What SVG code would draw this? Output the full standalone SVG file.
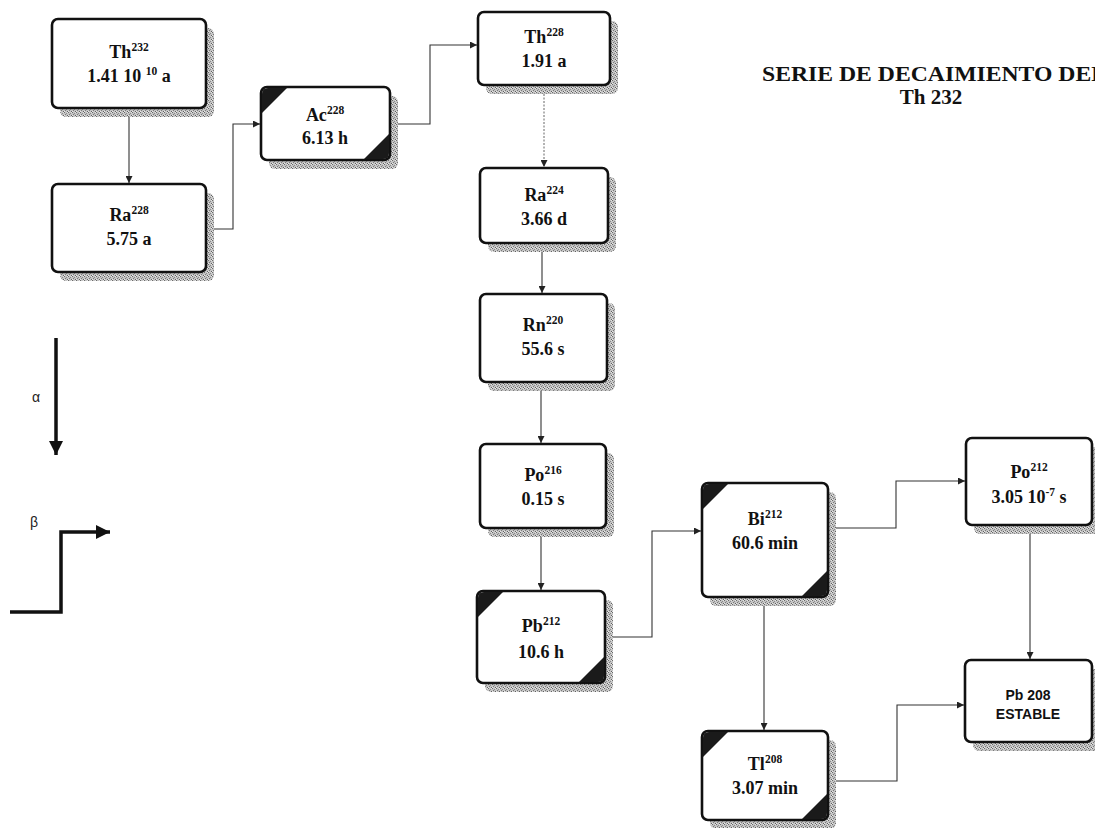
<svg xmlns="http://www.w3.org/2000/svg" width="1095" height="828" viewBox="0 0 1095 828">
<style>
.box{fill:#fff;stroke:#111;stroke-width:2.6}
.sh{fill:url(#dots)}
.corner{fill:#1a1a1a}
.t{font-family:"Liberation Serif","Times New Roman",serif;font-weight:bold;font-size:18px;fill:#111;text-anchor:middle}
.sup{font-size:11.5px}
.s{font-family:"Liberation Sans",Arial,sans-serif;font-weight:bold;font-size:14px;fill:#111;text-anchor:middle}
.c{fill:none;stroke:#333;stroke-width:1.1}
.cd{fill:none;stroke:#666;stroke-width:1;stroke-dasharray:2 1.5}
.leg{fill:none;stroke:#111;stroke-width:3.5}
.title{font-family:"Liberation Serif","Times New Roman",serif;font-weight:bold;font-size:21px;fill:#111}
.greek{font-family:"Liberation Sans",Arial,sans-serif;font-size:14px;fill:#222}
</style>
<defs>
<pattern id="dots" width="4" height="4" patternUnits="userSpaceOnUse">
<rect width="4" height="4" fill="#c4c4c4"/>
<rect x="0" y="0" width="1" height="1" fill="#6a6a6a"/>
<rect x="2" y="1" width="1" height="1" fill="#8a8a8a"/>
<rect x="1" y="2" width="1" height="1" fill="#7a7a7a"/>
<rect x="3" y="3" width="1" height="1" fill="#606060"/>
<rect x="3" y="0" width="1" height="1" fill="#e4e4e4"/>
<rect x="0" y="3" width="1" height="1" fill="#e8e8e8"/>
</pattern>
<marker id="ah" viewBox="0 0 8 8" refX="8" refY="4" markerWidth="7" markerHeight="7" markerUnits="userSpaceOnUse" orient="auto">
<path d="M0,0 L8,4 L0,8 Z" fill="#222"/>
</marker>
<marker id="big" viewBox="0 0 10 10" refX="10" refY="5" markerWidth="14" markerHeight="14" markerUnits="userSpaceOnUse" orient="auto">
<path d="M0,0 L10,5 L0,10 Z" fill="#111"/>
</marker>
</defs>

<g id="title">
<text class="title" x="762" y="81" textLength="345" lengthAdjust="spacingAndGlyphs">SERIE DE DECAIMIENTO DEL</text>
<text class="title" x="931" y="104" text-anchor="middle">Th 232</text>
</g>

<g id="connectors">
<path class="c" d="M129,117 V183" marker-end="url(#ah)"/>
<path class="c" d="M214,229 H233 V124 H260" marker-end="url(#ah)"/>
<path class="c" d="M398,124 H430 V45 H477" marker-end="url(#ah)"/>
<path class="cd" d="M544,94 V167" marker-end="url(#ah)"/>
<path class="c" d="M542,251 V293" marker-end="url(#ah)"/>
<path class="c" d="M541,390 V443" marker-end="url(#ah)"/>
<path class="c" d="M541,536 V590" marker-end="url(#ah)"/>
<path class="c" d="M613,637 H652 V531 H701" marker-end="url(#ah)"/>
<path class="c" d="M836,528 H896 V481 H965" marker-end="url(#ah)"/>
<path class="c" d="M764,605 V730" marker-end="url(#ah)"/>
<path class="c" d="M1030,533 V659" marker-end="url(#ah)"/>
<path class="c" d="M836,781 H897 V705 H964" marker-end="url(#ah)"/>
</g>

<g id="legend">
<text class="greek" x="32" y="402">α</text>
<path class="leg" d="M56,338 V455" marker-end="url(#big)"/>
<text class="greek" x="30" y="527">β</text>
<path class="leg" d="M10,612 H61 V532 H110" marker-end="url(#big)"/>
</g>

<g id="Th232">
<rect class="sh" x="60" y="28" width="154" height="89" rx="6"/>
<rect class="box" x="52" y="19" width="154" height="89" rx="6"/>
<text class="t" x="129" y="58">Th<tspan class="sup" dy="-7">232</tspan></text>
<text class="t" x="129" y="82">1.41 10 <tspan class="sup" dy="-7">10</tspan><tspan dy="7"> a</tspan></text>
</g>

<g id="Ra228">
<rect class="sh" x="60" y="193" width="154" height="88" rx="6"/>
<rect class="box" x="52" y="184" width="154" height="88" rx="6"/>
<text class="t" x="129" y="221">Ra<tspan class="sup" dy="-7">228</tspan></text>
<text class="t" x="129" y="245">5.75 a</text>
</g>

<g id="Ac228">
<rect class="sh" x="269" y="96" width="129" height="73" rx="6"/>
<rect class="box" x="261" y="87" width="129" height="73" rx="6"/>
<path class="corner" d="M262,113 V94 Q262,88 268,88 H287 Z"/>
<path class="corner" d="M389,134 V153 Q389,159 383,159 H364 Z"/>
<text class="t" x="325" y="121">Ac<tspan class="sup" dy="-7">228</tspan></text>
<text class="t" x="325" y="144">6.13 h</text>
</g>

<g id="Th228">
<rect class="sh" x="486" y="21" width="132" height="73" rx="6"/>
<rect class="box" x="478" y="12" width="132" height="73" rx="6"/>
<text class="t" x="544" y="43">Th<tspan class="sup" dy="-7">228</tspan></text>
<text class="t" x="544" y="67">1.91 a</text>
</g>

<g id="Ra224">
<rect class="sh" x="488" y="177" width="128" height="75" rx="6"/>
<rect class="box" x="480" y="168" width="128" height="75" rx="6"/>
<text class="t" x="544" y="201">Ra<tspan class="sup" dy="-7">224</tspan></text>
<text class="t" x="544" y="225">3.66 d</text>
</g>

<g id="Rn220">
<rect class="sh" x="488" y="303" width="127" height="88" rx="6"/>
<rect class="box" x="480" y="294" width="127" height="88" rx="6"/>
<text class="t" x="543" y="331">Rn<tspan class="sup" dy="-7">220</tspan></text>
<text class="t" x="543" y="355">55.6 s</text>
</g>

<g id="Po216">
<rect class="sh" x="488" y="453" width="126" height="84" rx="6"/>
<rect class="box" x="480" y="444" width="126" height="84" rx="6"/>
<text class="t" x="543" y="481">Po<tspan class="sup" dy="-7">216</tspan></text>
<text class="t" x="543" y="505">0.15 s</text>
</g>

<g id="Pb212">
<rect class="sh" x="485" y="600" width="128" height="92" rx="6"/>
<rect class="box" x="477" y="591" width="128" height="92" rx="6"/>
<path class="corner" d="M478,617 V598 Q478,592 484,592 H503 Z"/>
<path class="corner" d="M604,657 V676 Q604,682 598,682 H579 Z"/>
<text class="t" x="541" y="632">Pb<tspan class="sup" dy="-7">212</tspan></text>
<text class="t" x="541" y="658">10.6 h</text>
</g>

<g id="Bi212">
<rect class="sh" x="710" y="492" width="126" height="114" rx="6"/>
<rect class="box" x="702" y="483" width="126" height="114" rx="6"/>
<path class="corner" d="M703,509 V490 Q703,484 709,484 H728 Z"/>
<path class="corner" d="M827,571 V590 Q827,596 821,596 H802 Z"/>
<text class="t" x="765" y="525">Bi<tspan class="sup" dy="-7">212</tspan></text>
<text class="t" x="765" y="549">60.6 min</text>
</g>

<g id="Po212">
<rect class="sh" x="974" y="447" width="126" height="87" rx="6"/>
<rect class="box" x="966" y="438" width="126" height="87" rx="6"/>
<text class="t" x="1029" y="478">Po<tspan class="sup" dy="-7">212</tspan></text>
<text class="t" x="1029" y="503">3.05 10<tspan class="sup" dy="-7">-7</tspan><tspan dy="7"> s</tspan></text>
</g>

<g id="Pb208">
<rect class="sh" x="973" y="669" width="127" height="82" rx="6"/>
<rect class="box" x="965" y="660" width="127" height="82" rx="6"/>
<text class="s" x="1028" y="700">Pb 208</text>
<text class="s" x="1028" y="719">ESTABLE</text>
</g>

<g id="Tl208">
<rect class="sh" x="710" y="740" width="126" height="89" rx="6"/>
<rect class="box" x="702" y="731" width="126" height="89" rx="6"/>
<path class="corner" d="M703,757 V738 Q703,732 709,732 H728 Z"/>
<path class="corner" d="M827,794 V813 Q827,819 821,819 H802 Z"/>
<text class="t" x="765" y="770">Tl<tspan class="sup" dy="-7">208</tspan></text>
<text class="t" x="765" y="794">3.07 min</text>
</g>
</svg>
